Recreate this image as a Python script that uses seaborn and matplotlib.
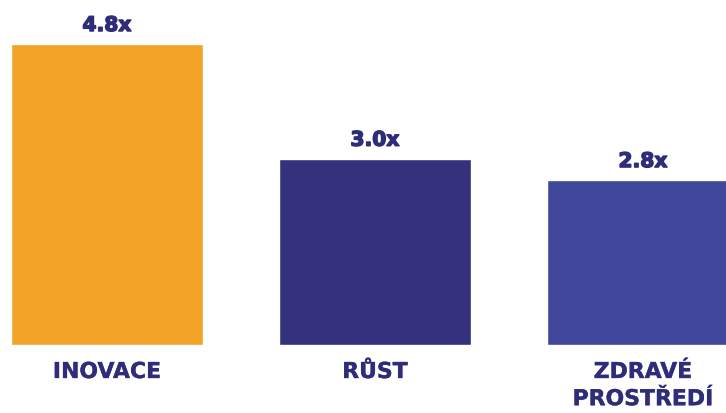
import matplotlib
matplotlib.use("Agg")
import matplotlib.pyplot as plt
import matplotlib.patheffects as pe
import seaborn as sns
import pandas as pd

categories = ["INOVACE", "RŮST", "ZDRAVÉ\nPROSTŘEDÍ"]
bar_heights = [4.8, 2.97, 2.63]
value_labels = ["4.8x", "3.0x", "2.8x"]
colors = ["#F3A428", "#34317D", "#40489C"]
text_color = "#2F2D79"

sns.set_theme(style="white")
plt.rcParams["font.family"] = ["DejaVu Sans"]

df = pd.DataFrame({"cat": categories, "val": bar_heights})

fig = plt.figure(figsize=(7.26, 4.14), dpi=100)
ax = fig.add_axes([0, 68 / 414, 1, 346 / 414])
sns.barplot(data=df, x="cat", y="val", hue="cat", palette=colors,
            legend=False, width=0.716, saturation=1, ax=ax)

ax.set_xlim(-107 / 268, (726 - 107) / 268)
ax.set_ylim(0, 346 / 62.7)
ax.axis("off")

heavy_val = [pe.withStroke(linewidth=1.0, foreground=text_color)]
heavy_cat = [pe.withStroke(linewidth=0.25, foreground=text_color)]

for i, (h, lab) in enumerate(zip(bar_heights, value_labels)):
    ax.annotate(lab, xy=(i, h), xytext=(0, 13 * 0.72), textcoords="offset points",
                ha="center", va="baseline", fontsize=14.6, fontweight="bold",
                color=text_color, path_effects=heavy_val)
    ax.annotate(categories[i], xy=(i, 0), xytext=(0, -17 * 0.72), textcoords="offset points",
                ha="center", va="top", fontsize=15.8, fontweight="bold",
                color=text_color, linespacing=1.45, annotation_clip=False,
                path_effects=heavy_cat)

fig.savefig("out.png", dpi=100)
